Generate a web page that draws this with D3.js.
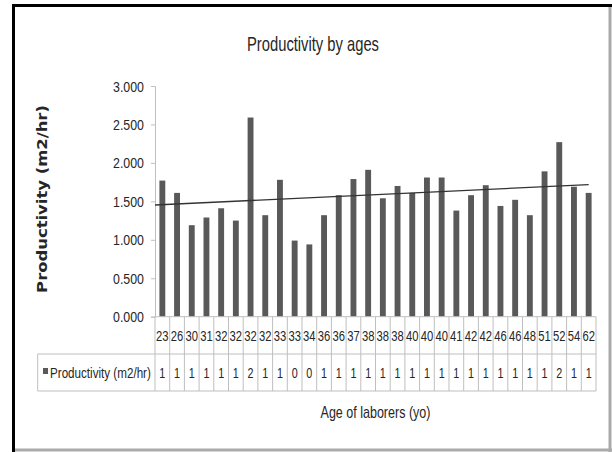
<!DOCTYPE html>
<html>
<head>
<meta charset="utf-8">
<script src="https://cdn.jsdelivr.net/npm/d3@7"></script>
<style>
  body { margin: 0; background: #fff; }
  text { fill: #262626; }
</style>
</head>
<body>
<svg id="chart" width="612" height="452"></svg>
<script>
let ages = [23, 26, 30, 31, 32, 32, 32, 32, 33, 33, 34, 36, 36, 37, 38, 38, 38, 40, 40, 40, 41, 42, 42, 46, 46, 48, 51, 52, 54, 62]
let productivity = [1.77, 1.61, 1.19, 1.29, 1.41, 1.25, 2.59, 1.32, 1.78, 0.99, 0.94, 1.32, 1.58, 1.79, 1.91, 1.54, 1.70, 1.61, 1.81, 1.81, 1.38, 1.58, 1.71, 1.44, 1.52, 1.32, 1.89, 2.27, 1.69, 1.61]
let yTicks = [0, 0.5, 1, 1.5, 2, 2.5, 3]
let seriesName = "Productivity (m2/hr)"
let chartTitle = "Productivity by ages"
let xTitle = "Age of laborers (yo)"

// no narrow (Calibri-like) font here, so squeeze a regular one horizontally
let sans = "'Liberation Sans', Arial, sans-serif"
let svg = d3.select("#chart")

let squeeze = (sel, width, px, py) => {
  sel.each(function (d, i) {
    let t = d3.select(this)
    let w = this.getComputedTextLength()
    let k = (typeof width === "function" ? width(d, i) : width) / w
    let tx = typeof px === "function" ? px(d, i) : px
    let ty = typeof py === "function" ? py(d, i) : py
    t.attr("x", 0).attr("y", 0).attr("transform", "translate(" + tx + "," + ty + ") scale(" + k + ",1)")
  })
}

// outer frame
svg.append("line").attr("x1", 12).attr("x2", 612).attr("y1", 5.5).attr("y2", 5.5).attr("stroke", "#000").attr("stroke-width", 3)
svg.append("line").attr("x1", 13.5).attr("x2", 13.5).attr("y1", 4).attr("y2", 452).attr("stroke", "#000").attr("stroke-width", 3)
svg.append("line").attr("x1", 610).attr("x2", 610).attr("y1", 7).attr("y2", 452).attr("stroke", "#aaa").attr("stroke-width", 3)
svg.append("line").attr("x1", 15).attr("x2", 612).attr("y1", 450).attr("y2", 450).attr("stroke", "#aaa").attr("stroke-width", 3)

let x = d3.scaleBand().domain(d3.range(ages.length)).range([155, 596])
let y = d3.scaleLinear().domain([0, 3]).range([316.7, 86])

// y axis
let yAxis = d3.axisLeft(y).tickValues(yTicks).tickFormat(d3.format(".3f")).tickSize(4).tickPadding(7)
let ga = svg.append("g").attr("transform", "translate(155,0)").call(yAxis)
ga.select(".domain").attr("stroke", "#bfbfbf")
ga.selectAll(".tick line").attr("stroke", "#bfbfbf")
let tickText = ga.selectAll(".tick text")
  .style("font-family", sans).style("font-size", "15px").attr("fill", "#262626").attr("dy", null)
squeeze(tickText, 31, -11, 5)

// bars
let bw = x.bandwidth() * 0.4
svg.selectAll("rect.bar")
  .data(productivity)
  .enter()
  .append("rect")
  .attr("class", "bar")
  .attr("x", (d, i) => x(i) + (x.bandwidth() - bw) / 2)
  .attr("y", d => y(d))
  .attr("width", bw)
  .attr("height", d => y(0) - y(d))
  .attr("fill", "#595959")

// linear trendline (least squares over category index)
let n = productivity.length
let mx = d3.mean(d3.range(n)), my = d3.mean(productivity)
let slope = d3.sum(productivity, (d, i) => (i - mx) * (d - my)) / d3.sum(d3.range(n), i => (i - mx) * (i - mx))
let icpt = my - slope * mx
let xc = i => x(0) + x.bandwidth() * (i + 0.5)
svg.append("line")
  .attr("x1", xc(-0.5)).attr("y1", y(icpt + slope * -0.5))
  .attr("x2", xc(n - 1)).attr("y2", y(icpt + slope * (n - 1)))
  .attr("stroke", "#333").attr("stroke-width", 1.3)

// data table
let rowTop = 354, rowBot = 391, tabLeft = 37.7
let grid = svg.append("g").attr("stroke", "#bfbfbf").attr("stroke-width", 1)
grid.append("line").attr("x1", 155).attr("x2", 596).attr("y1", y(0)).attr("y2", y(0))
grid.append("line").attr("x1", tabLeft).attr("x2", 596).attr("y1", rowTop).attr("y2", rowTop)
grid.append("line").attr("x1", tabLeft).attr("x2", 596).attr("y1", rowBot).attr("y2", rowBot)
grid.append("line").attr("x1", tabLeft).attr("x2", tabLeft).attr("y1", rowTop).attr("y2", rowBot)
grid.selectAll("line.col")
  .data(d3.range(n + 1))
  .enter()
  .append("line")
  .attr("class", "col")
  .attr("x1", i => x(0) + x.bandwidth() * i)
  .attr("x2", i => x(0) + x.bandwidth() * i)
  .attr("y1", y(0))
  .attr("y2", rowBot)

let ageText = svg.selectAll("text.age")
  .data(ages)
  .enter()
  .append("text")
  .attr("class", "age")
  .attr("text-anchor", "middle")
  .style("font-family", sans)
  .style("font-size", "15px")
  .text(d => d)
squeeze(ageText, 12.5, (d, i) => xc(i), 341)

// the table shows the values cut to whole numbers
let valText = svg.selectAll("text.val")
  .data(productivity)
  .enter()
  .append("text")
  .attr("class", "val")
  .attr("text-anchor", "middle")
  .style("font-family", sans)
  .style("font-size", "14px")
  .text(d => Math.floor(d))
squeeze(valText, 6, (d, i) => xc(i), 378)

svg.append("rect").attr("x", 43).attr("y", 368).attr("width", 5).attr("height", 6).attr("fill", "#595959")
let legText = svg.append("text")
  .style("font-family", sans).style("font-size", "14px")
  .text(seriesName)
squeeze(legText, 101, 50, 378)

// titles
let titleText = svg.append("text")
  .attr("text-anchor", "middle")
  .style("font-family", sans).style("font-size", "20px")
  .text(chartTitle)
squeeze(titleText, 132, 313, 51)

let xTitleText = svg.append("text")
  .attr("text-anchor", "middle")
  .style("font-family", sans).style("font-size", "17px")
  .text(xTitle)
squeeze(xTitleText, 110, 375.5, 418)

let yTitleText = svg.append("text")
  .attr("text-anchor", "middle")
  .style("font-family", "'DejaVu Sans', sans-serif").style("font-weight", "bold").style("font-size", "13.5px")
  .text(seriesName)
yTitleText.attr("transform", "translate(47,199) rotate(-90) scale(" + (188 / yTitleText.node().getComputedTextLength()) + ",1)")
</script>
</body>
</html>
